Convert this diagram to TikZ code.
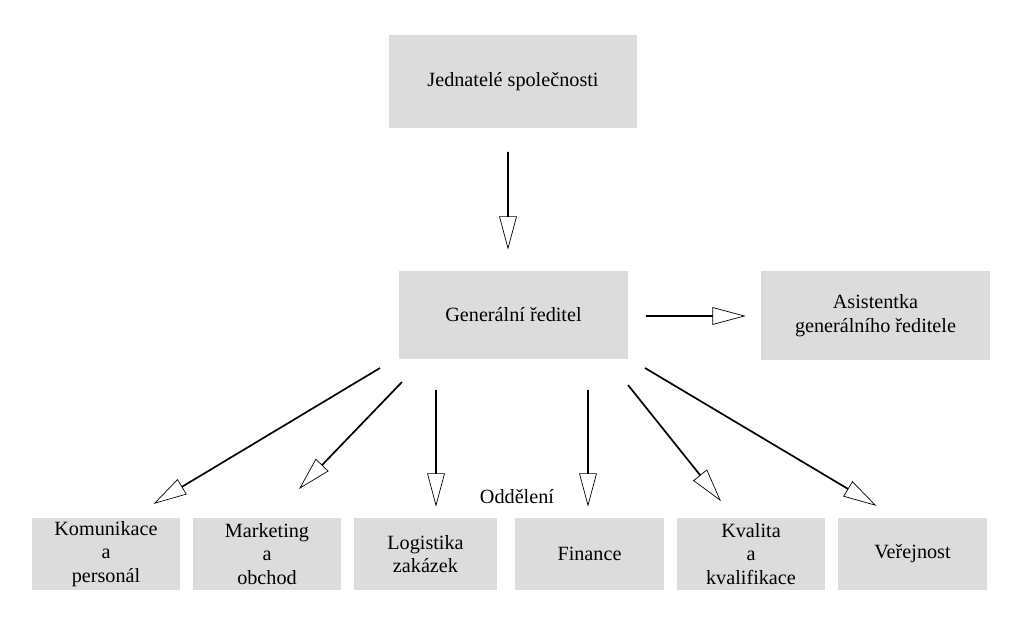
\documentclass[tikz,border=0pt]{standalone}
\usepackage{fontspec}
\setmainfont{Liberation Serif}
\usetikzlibrary{shapes.arrows, calc}

\definecolor{boxgray}{RGB}{220,220,220}

\newcommand{\hollowarrow}[2]{%
  \path let \p1=($(#2)-(#1)$), \n1={atan2(\y1,\x1)}, \n2={veclen(\x1,\y1)} in
    node[hollow, minimum height=\n2, rotate=\n1, anchor=tail] at (#1) {};
}

\begin{document}
\begin{tikzpicture}[
  x=0.02cm, y=-0.02cm,
  box/.style={fill=boxgray, align=center, inner sep=0pt, font=\fontsize{11.5}{13.5}\selectfont},
  hollow/.style={single arrow, draw, thin, fill=white, inner sep=0pt, minimum width=0.24cm,
    single arrow head extend=0.16cm, single arrow tip angle=30, shape border uses incircle}
  ]
\useasboundingbox (0,0) rectangle (1024,621);

\node[box, minimum width=248*0.02cm, minimum height=93*0.02cm] (owners) at (513,81.5) {Jednatelé společnosti};
\node[box, minimum width=229*0.02cm, minimum height=88*0.02cm] (ceo) at (513.5,315) {Generální ředitel};
\node[box, minimum width=229*0.02cm, minimum height=89*0.02cm] (assist) at (875.5,315.5) {Asistentka\\generálního ředitele};

\node[box, minimum width=148*0.02cm, minimum height=72*0.02cm] (hr) at (106,554) {Komunikace\\a\\personál};
\node[box, minimum width=148*0.02cm, minimum height=72*0.02cm] (mkt) at (267,554) {Marketing\\a\\obchod};
\node[box, minimum width=143*0.02cm, minimum height=72*0.02cm] (log) at (425.5,554) {Logistika\\zakázek};
\node[box, minimum width=149*0.02cm, minimum height=72*0.02cm] (fin) at (589.5,554) {Finance};
\node[box, minimum width=148*0.02cm, minimum height=72*0.02cm] (qual) at (751,554) {Kvalita\\a\\kvalifikace};
\node[box, minimum width=149*0.02cm, minimum height=72*0.02cm] (pub) at (912.5,554) {Veřejnost};

\node[font=\fontsize{11.5}{13.5}\selectfont] (dept) at (517,497) {Oddělení};

% arrow ends
\coordinate (a1) at (508,152); \coordinate (b1) at (508,248);
\coordinate (a2) at (646,316); \coordinate (b2) at (744,316);
\coordinate (a3) at (380,368); \coordinate (b3) at (155,503);
\coordinate (a4) at (402,382); \coordinate (b4) at (300,488);
\coordinate (a5) at (436,390); \coordinate (b5) at (436,505);
\coordinate (a6) at (588,390); \coordinate (b6) at (588,505);
\coordinate (a7) at (628,385); \coordinate (b7) at (720,500);
\coordinate (a8) at (645,368); \coordinate (b8) at (875,505);

\hollowarrow{a1}{b1}
\hollowarrow{a2}{b2}
\hollowarrow{a3}{b3}
\hollowarrow{a4}{b4}
\hollowarrow{a5}{b5}
\hollowarrow{a6}{b6}
\hollowarrow{a7}{b7}
\hollowarrow{a8}{b8}

\end{tikzpicture}
\end{document}
